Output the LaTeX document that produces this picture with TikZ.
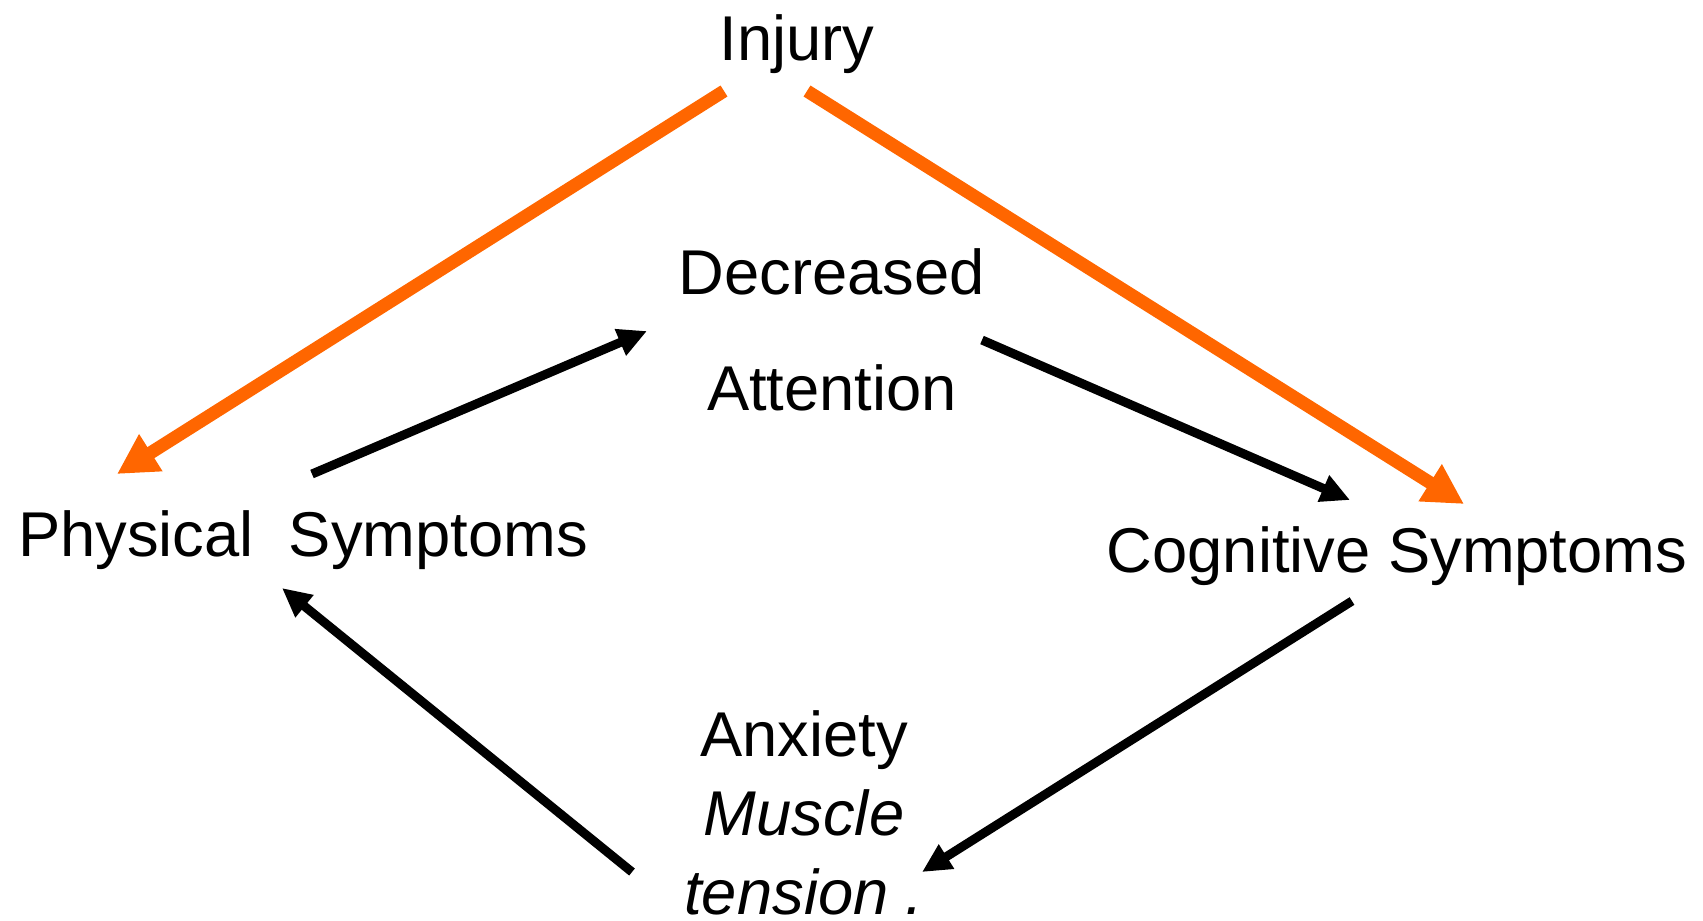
\documentclass[tikz,border=0pt]{standalone}
\usepackage{fontspec}
\setmainfont{Liberation Sans}
\usetikzlibrary{arrows.meta}
\definecolor{injorange}{RGB}{255,102,0}

\begin{document}
\begin{tikzpicture}[
    x=0.01cm, y=-0.01cm,
    term/.style  = {font=\fontsize{18}{21.6}\selectfont, inner sep=0pt},
    hurt/.style  = {draw=injorange, line width=0.13cm,
                    -{Triangle[length=0.40cm, width=0.41cm]}},
    feed/.style  = {draw=black, line width=0.09cm,
                    -{Triangle[length=0.29cm, width=0.27cm]}},
  ]
  \useasboundingbox (0,0) rectangle (1703,920);

  \node[term, anchor=base] (injury) at (797,60) {Injury};
  \node[term, align=center, font=\fontsize{18}{33}\selectfont] (decr) at (832,330)
    {Decreased\\Attention};
  \node[term, anchor=base] (phys) at (303,556) {Physical\ \ Symptoms};
  \node[term, anchor=base] (cogn) at (1397,572) {Cognitive Symptoms};
  \node[term, align=center, font=\fontsize{18}{22.5}\selectfont] (anx) at (804,813)
    {Anxiety\\\itshape Muscle\\\itshape tension .};

  % injury to both kinds of symptoms
  \draw[hurt] ([shift={(-73,31)}]injury.base) -- ([shift={(-186,-82)}]phys.base);
  \draw[hurt] ([shift={(10,31)}]injury.base) -- ([shift={(67,-68)}]cogn.base);

  % the vicious circle
  \draw[feed] ([shift={(9,-82)}]phys.base) -- ([shift={(-185,1)}]decr.center);
  \draw[feed] ([shift={(150,10)}]decr.center) -- ([shift={(-47,-72)}]cogn.base);
  \draw[feed] ([shift={(-45,29)}]cogn.base) -- ([shift={(118,59)}]anx.center);
  \draw[feed] ([shift={(-172,59)}]anx.center) -- ([shift={(-21,32)}]phys.base);
\end{tikzpicture}
\end{document}
